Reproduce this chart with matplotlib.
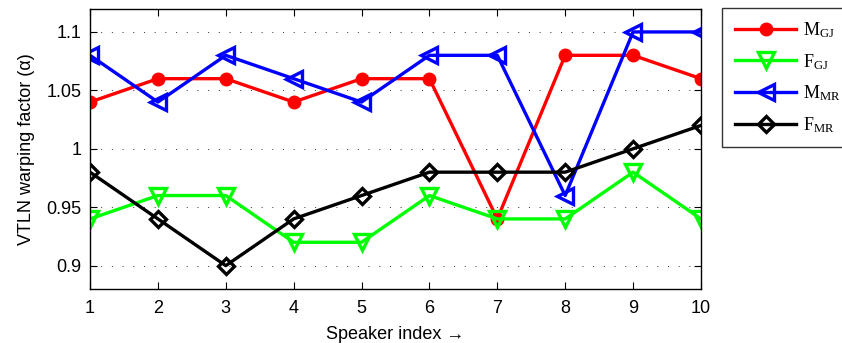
import matplotlib
matplotlib.use("Agg")
import matplotlib.pyplot as plt
from matplotlib.ticker import FixedLocator

speakers = [1, 2, 3, 4, 5, 6, 7, 8, 9, 10]
m_gj = [1.04, 1.06, 1.06, 1.04, 1.06, 1.06, 0.94, 1.08, 1.08, 1.06]
f_gj = [0.94, 0.96, 0.96, 0.92, 0.92, 0.96, 0.94, 0.94, 0.98, 0.94]
m_mr = [1.08, 1.04, 1.08, 1.06, 1.04, 1.08, 1.08, 0.96, 1.10, 1.10]
f_mr = [0.98, 0.94, 0.90, 0.94, 0.96, 0.98, 0.98, 0.98, 1.00, 1.02]

y_ticks = [0.9, 0.95, 1.0, 1.05, 1.1]
y_tick_labels = ["0.9", "0.95", "1", "1.05", "1.1"]

plt.rcParams["font.family"] = ["Liberation Sans", "DejaVu Sans"]
plt.rcParams["mathtext.fontset"] = "custom"
plt.rcParams["mathtext.rm"] = "Liberation Serif"

fig = plt.figure(figsize=(8.42, 3.43), dpi=100)
ax = fig.add_axes([0.1069, 0.1574, 0.7256, 0.8176])

lw = 2.4
ax.plot(speakers, m_gj, color="#ff0000", lw=lw, marker="o", ms=9,
        mfc="#ff0000", mec="#ff0000", label=r"M$\mathregular{_{GJ}}$")
ax.plot(speakers, f_gj, color="#00ff00", lw=lw, marker="v", ms=12,
        mfc="none", mec="#00ff00", mew=lw, label=r"F$\mathregular{_{GJ}}$")
ax.plot(speakers, m_mr, color="#0000ff", lw=lw, marker="<", ms=12,
        mfc="none", mec="#0000ff", mew=lw, label=r"M$\mathregular{_{MR}}$")
ax.plot(speakers, f_mr, color="#000000", lw=lw, marker="D", ms=8.5,
        mfc="none", mec="#000000", mew=lw, label=r"F$\mathregular{_{MR}}$")

ax.set_xlim(1, 10)
ax.set_ylim(0.88, 1.12)
ax.set_xticks(speakers)
ax.set_xticklabels([str(s) for s in speakers])
ax.yaxis.set_major_locator(FixedLocator(y_ticks))
ax.set_yticklabels(y_tick_labels)

ax.tick_params(direction="in", length=5, width=0.8, labelsize=13,
               top=True, right=True)
ax.tick_params(axis="x", pad=8)
ax.tick_params(axis="y", pad=6)
ax.grid(axis="y", linestyle=(0, (1, 10)), color="#333333", lw=0.7)
for s in ax.spines.values():
    s.set_linewidth(1.0)

ax.set_xlabel("Speaker index \u2192", fontsize=13)
ax.set_ylabel("VTLN warping factor (\u03b1)", fontsize=13, labelpad=8)
ax.xaxis.set_label_coords(0.5, -0.132)

leg = fig.legend(loc="upper left", bbox_to_anchor=(0.858, 0.978),
                 prop={"family": "Liberation Serif", "size": 13},
                 handlelength=3.4, labelspacing=0.66, borderpad=0.7,
                 handletextpad=0.35, frameon=True, fancybox=False,
                 edgecolor="black", borderaxespad=0)
leg.get_frame().set_linewidth(1.0)

fig.savefig("out.png", dpi=100)
